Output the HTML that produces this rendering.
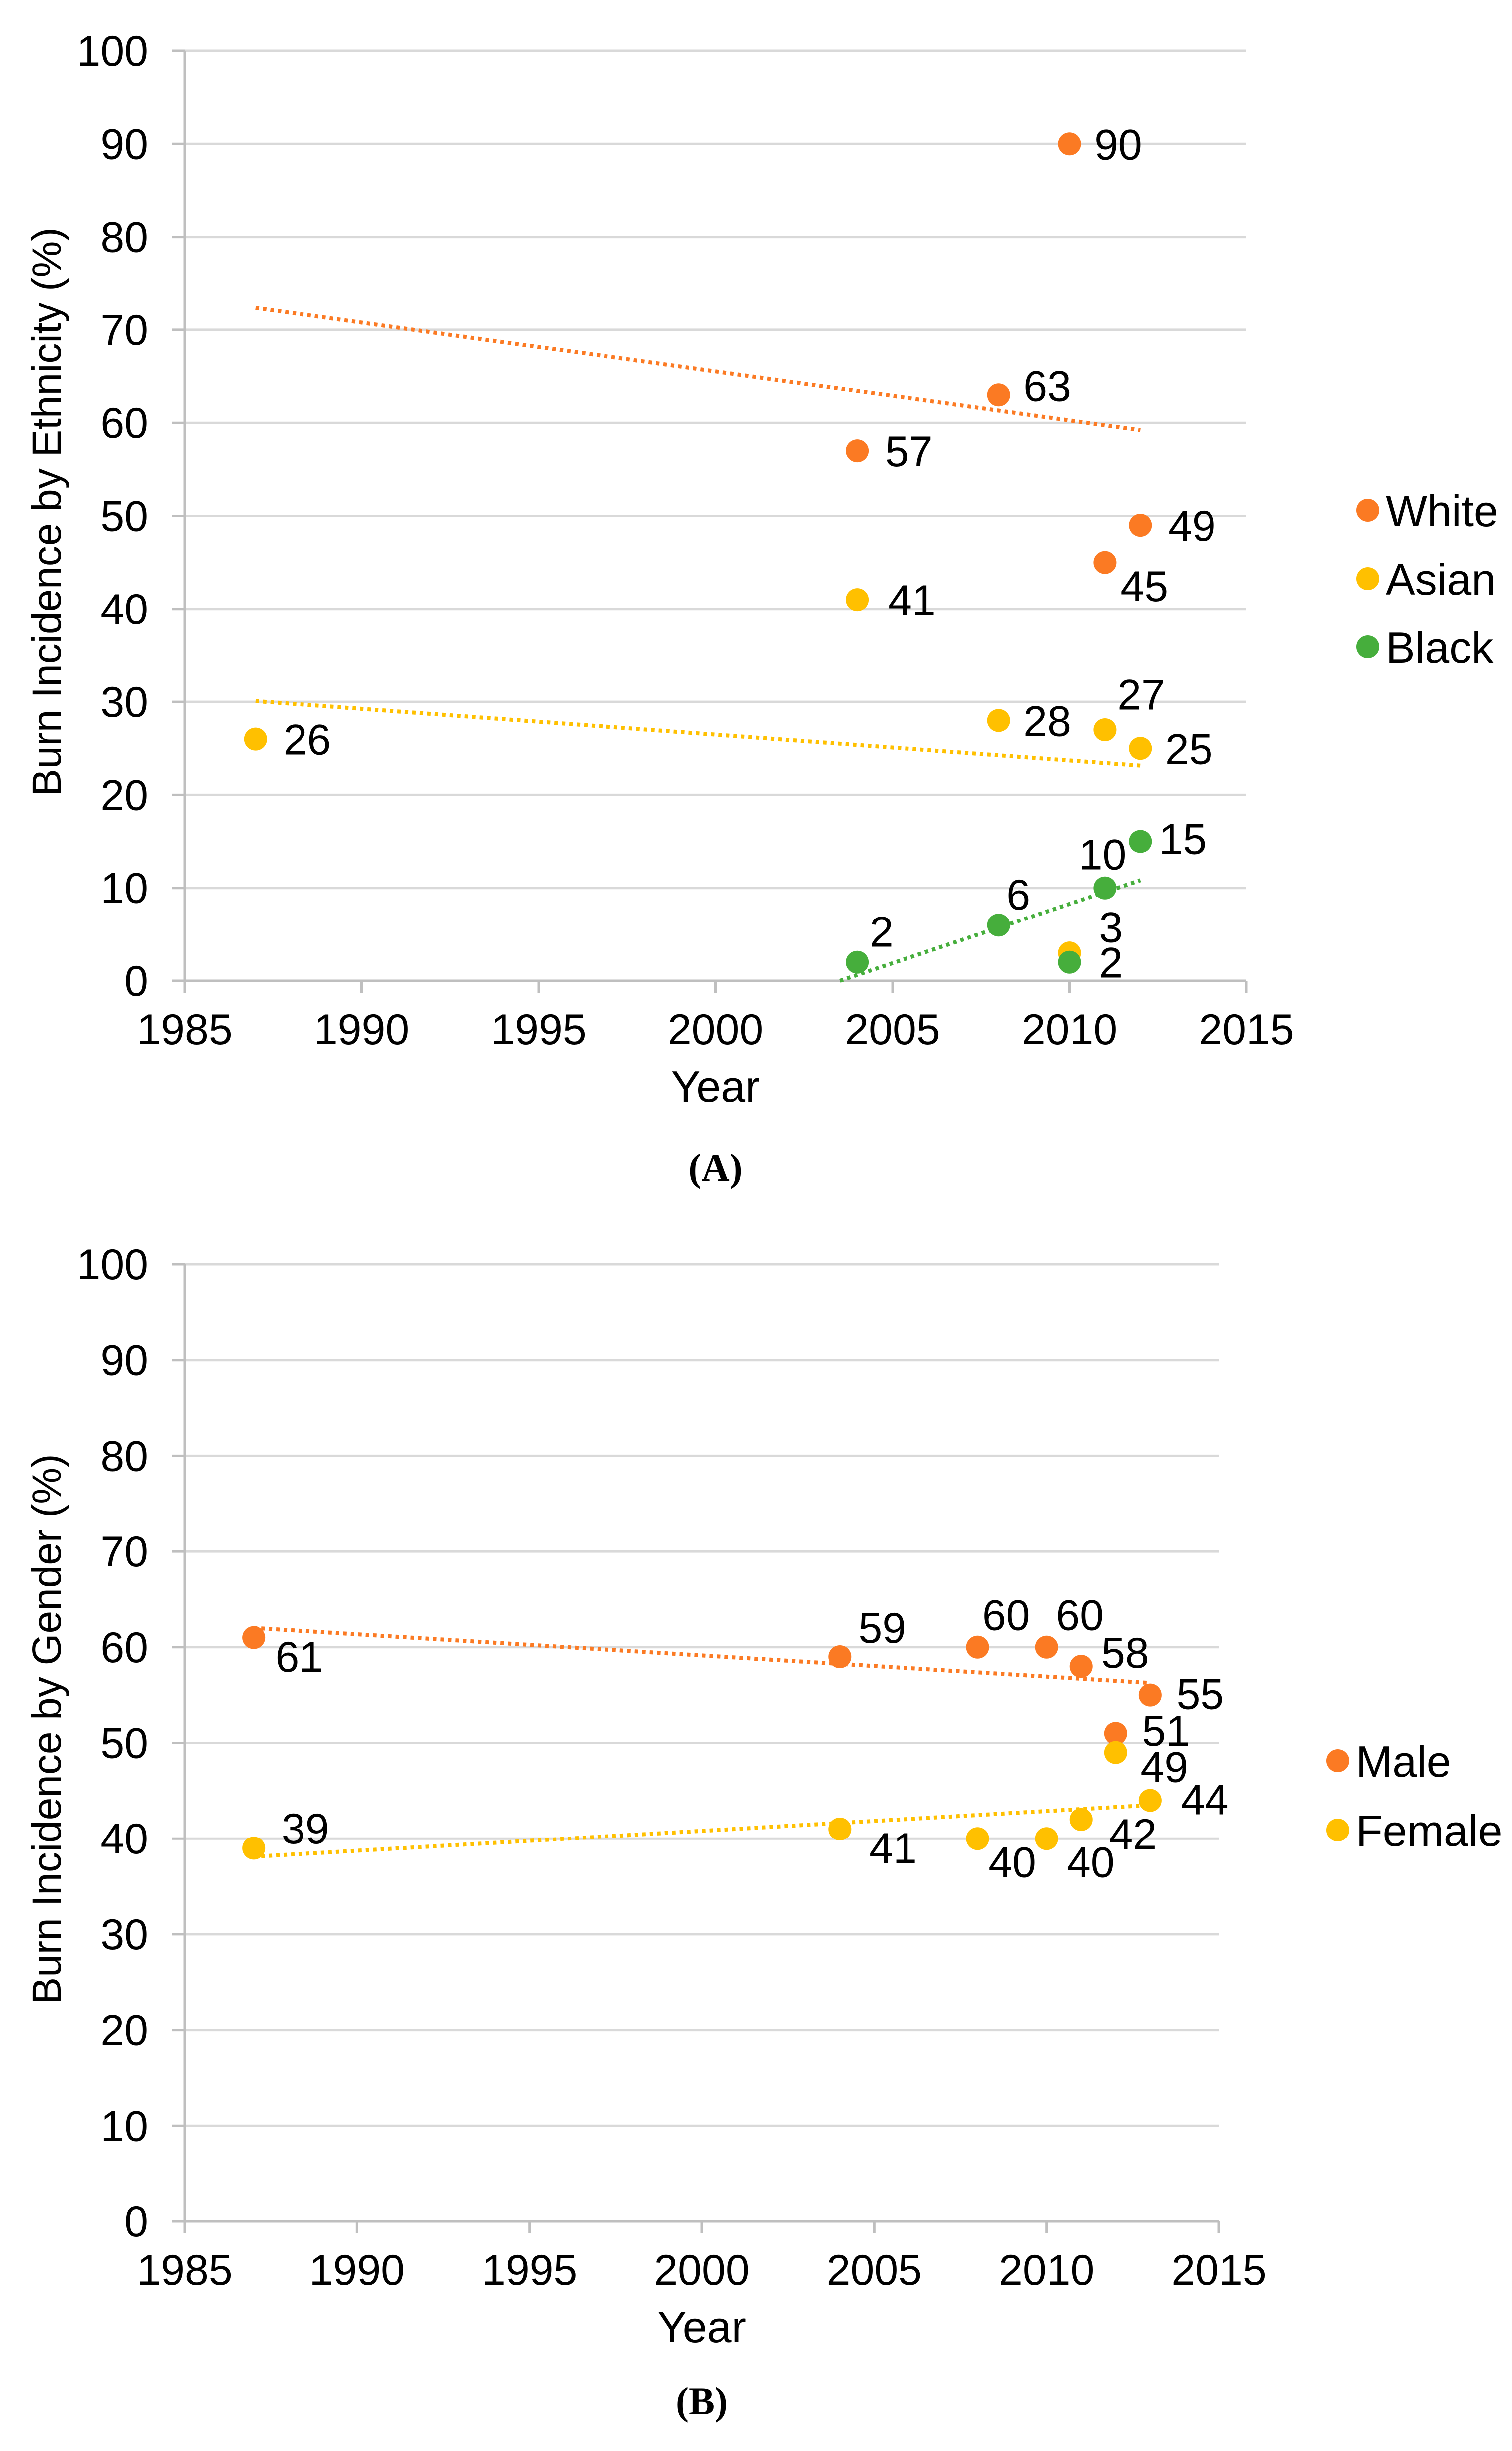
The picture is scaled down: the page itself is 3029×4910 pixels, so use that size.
<!DOCTYPE html>
<html><head><meta charset="utf-8"><style>
html,body{margin:0;padding:0;background:#fff;}
svg{display:block;}
text{font-family:"Liberation Sans",Arial,sans-serif;fill:#000;}
</style></head><body>
<svg id="root" width="3029" height="4910" viewBox="0 0 3029 4910" xmlns="http://www.w3.org/2000/svg"></svg>
<script>
// ---------- Chart A data (ethnicity) ----------
const yearTicks = [1985, 1990, 1995, 2000, 2005, 2010, 2015];
const pctTicks = [0, 10, 20, 30, 40, 50, 60, 70, 80, 90, 100];
const whiteYears = [2004, 2008, 2010, 2011, 2012];
const whiteValues = [57, 63, 90, 45, 49];
const asianYears = [1987, 2004, 2008, 2010, 2011, 2012];
const asianValues = [26, 41, 28, 3, 27, 25];
const blackYears = [2004, 2008, 2010, 2011, 2012];
const blackValues = [2, 6, 2, 10, 15];
// ---------- Chart B data (gender) ----------
const maleYears = [1987, 2004, 2008, 2010, 2011, 2012, 2013];
const maleValues = [61, 59, 60, 60, 58, 51, 55];
const femaleYears = [1987, 2004, 2008, 2010, 2011, 2012, 2013];
const femaleValues = [39, 41, 40, 40, 42, 49, 44];

// label offsets (display px, style only)
const whiteOff = [[18,0],[16,-6],[16,0],[10,15],[18,0]];
const asianOff = [[18,0],[20,0],[16,0],[19,-17],[8,-23],[16,0]];
const blackOff = [[8,-20],[5,-20],[19,0],[-17,-22],[12,-2]];
const maleOff = [[14,12],[12,-19],[3,-21],[6,-21],[13,-9],[17,-2],[17,-1]];
const femaleOff = [[18,-13],[19,12],[7,15],[13,15],[18,9],[16,9],[20,-1]];

const NS = "http://www.w3.org/2000/svg";
const root = document.getElementById('root');
function mk(tag, attrs, parent){
  const e = document.createElementNS(NS, tag);
  for (const k in attrs) e.setAttribute(k, attrs[k]);
  (parent||root).appendChild(e);
  return e;
}
const ORANGE = "#FB7A23", YELLOW = "#FFC000", GREEN = "#46AE3C";
const S = 3.1;

function regression(xs, ys){
  const n = xs.length;
  const mx = xs.reduce((a,b)=>a+b,0)/n, my = ys.reduce((a,b)=>a+b,0)/n;
  let sxy=0, sxx=0;
  for(let i=0;i<n;i++){sxy+=(xs[i]-mx)*(ys[i]-my); sxx+=(xs[i]-mx)*(xs[i]-mx);}
  const m = sxy/sxx; return {m:m, b:my-m*mx};
}

function chart(cfg){
  const g = mk('g', {});
  
  
  const X = v => cfg.x0 + (v-1985)/30*(cfg.x1-cfg.x0);
  const Y = v => cfg.y0 - v/100*(cfg.y0-cfg.y100);
  let allX = [];
  cfg.series.forEach(s => { allX = allX.concat(s.xs); });
  const gMin = Math.min(...allX), gMax = Math.max(...allX);
  pctTicks.forEach(t => {
    const y = Y(t);
    if (t>0){
      const gl = mk('line',{x1:cfg.x0,x2:cfg.x1,y1:y,y2:y,stroke:'#d9d9d9','stroke-width':5},g);
      
      
    }
    const tk = mk('line',{x1:cfg.x0-25,x2:cfg.x0,y1:y,y2:y,stroke:'#bfbfbf','stroke-width':5},g);
    
    
    const tl = mk('text',{x:297,y:y+30,'text-anchor':'end','font-size':86},g);
    tl.textContent = t;
    
    
  });
  const ya = mk('line',{x1:cfg.x0,x2:cfg.x0,y1:cfg.y100,y2:cfg.y0,stroke:'#bfbfbf','stroke-width':5},g);
  
  
  const xa = mk('line',{x1:cfg.x0,x2:cfg.x1,y1:cfg.y0,y2:cfg.y0,stroke:'#bfbfbf','stroke-width':5},g);
  
  
  yearTicks.forEach(t => {
    const x = X(t);
    const tk = mk('line',{x1:x,x2:x,y1:cfg.y0,y2:cfg.y0+24,stroke:'#bfbfbf','stroke-width':5},g);
    
    
    const tl = mk('text',{x:x,y:cfg.y0+127,'text-anchor':'middle','font-size':86},g);
    tl.textContent = t;
    
    
  });
  const xt = mk('text',{x:(cfg.x0+cfg.x1)/2,y:cfg.y0+242,'text-anchor':'middle','font-size':88},g);
  xt.textContent = 'Year';
  
  
  const yc = cfg.ytitleY;
  const yt = mk('text',{x:0,y:0,'text-anchor':'middle','font-size':82,transform:`translate(122,${yc}) rotate(-90)`},g);
  yt.textContent = cfg.ytitle;
  
  
  const pl = mk('text',{x:(cfg.x0+cfg.x1)/2,y:cfg.panelY,'text-anchor':'middle','font-size':78,'font-weight':'bold',style:'font-family:"Liberation Serif",serif'},g);
  pl.textContent = cfg.panel;
  
  
  cfg.series.forEach(s => {
    const sg = mk('g',{},g);
    
    
    const r = regression(s.xs, s.ys);
    let xa0 = gMin, xa1 = gMax;
    if (r.b + r.m*xa0 < 0) xa0 = -r.b/r.m;
    const tl = mk('line',{x1:X(xa0),y1:Y(r.b+r.m*xa0),x2:X(xa1),y2:Y(r.b+r.m*xa1),stroke:s.color,'stroke-width':8,'stroke-dasharray':'7 8'},sg);
    
    
    s.xs.forEach((xv,i) => {
      const cx = X(xv), cy = Y(s.ys[i]);
      const c = mk('circle',{cx:cx,cy:cy,r:23,fill:s.color},sg);
      
      
      const o = s.off[i];
      const t = mk('text',{x:cx+o[0]*S,y:cy+o[1]*S+31,'font-size':86},sg);
      t.textContent = s.ys[i];
      
      
    });
    const lc = mk('circle',{cx:s.lx,cy:s.ly,r:23,fill:s.color},g);
    
    
    const lt = mk('text',{x:s.lx+36,y:s.ly+32,'font-size':88},g);
    lt.textContent = s.label;
    
    
  });
}

chart({name:'chart-a-ethnicity', x0:370, x1:2497, y0:1965, y100:102, ytitle:'Burn Incidence by Ethnicity (%)', ytitleY:1025, panel:'(A)', panelY:2365,
  series:[
    {key:'white',label:'White',xs:whiteYears,ys:whiteValues,color:ORANGE,off:whiteOff,lx:2740,ly:1022},
    {key:'asian',label:'Asian',xs:asianYears,ys:asianValues,color:YELLOW,off:asianOff,lx:2740,ly:1159},
    {key:'black',label:'Black',xs:blackYears,ys:blackValues,color:GREEN,off:blackOff,lx:2740,ly:1296}
  ]});
chart({name:'chart-b-gender', x0:370, x1:2442, y0:4450, y100:2533, ytitle:'Burn Incidence by Gender (%)', ytitleY:3464, panel:'(B)', panelY:4836,
  series:[
    {key:'male',label:'Male',xs:maleYears,ys:maleValues,color:ORANGE,off:maleOff,lx:2680,ly:3527},
    {key:'female',label:'Female',xs:femaleYears,ys:femaleValues,color:YELLOW,off:femaleOff,lx:2680,ly:3666}
  ]});
</script>
</body></html>
